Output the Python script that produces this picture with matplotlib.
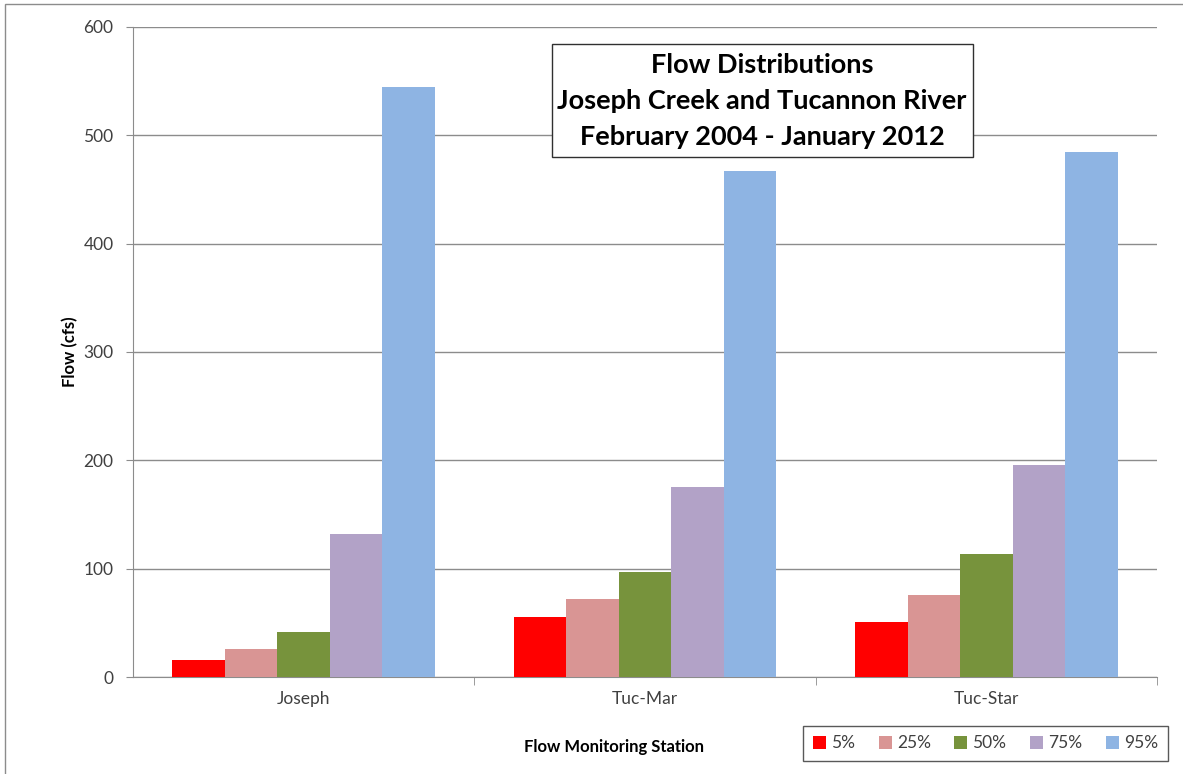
import matplotlib
matplotlib.use("Agg")
import matplotlib.pyplot as plt
import numpy as np
from matplotlib.patches import Rectangle

plt.rcParams['font.family'] = ['Lato', 'DejaVu Sans']

stations = ["Joseph", "Tuc-Mar", "Tuc-Star"]
percentiles = ["5%", "25%", "50%", "75%", "95%"]
flow_5 = [16, 55, 51]
flow_25 = [26, 72, 76]
flow_50 = [42, 97, 114]
flow_75 = [132, 175, 196]
flow_95 = [545, 467, 485]
colors = ["#FF0000", "#D99594", "#77933C", "#B2A2C7", "#8EB4E3"]

series = [flow_5, flow_25, flow_50, flow_75, flow_95]

W, H = 1183, 774
fig = plt.figure(figsize=(W / 100, H / 100), dpi=100)
ax = fig.add_axes([133 / W, 1 - 677 / H, (1157 - 133) / W, (677 - 27) / H])

x = np.arange(len(stations))
bw = 1 / 6.5
for i, (vals, c) in enumerate(zip(series, colors)):
    ax.bar(x + (i - 2) * bw, vals, width=bw, color=c, label=percentiles[i], zorder=3)

ax.set_xlim(-0.5, 2.5)
ax.set_ylim(0, 600)
ax.set_yticks(range(0, 601, 100))
ax.yaxis.grid(True, color="#8c8c8c", linewidth=1.0, zorder=0)
ax.set_xticks(x)
ax.set_xticklabels(stations)
ax.set_xticks([0.5, 1.5, 2.5], minor=True)
ax.tick_params(axis='x', which='major', length=0, pad=10, labelsize=12.5, colors="#404040")
ax.tick_params(axis='x', which='minor', length=6, color="#8c8c8c")
ax.tick_params(axis='y', length=5, color="#8c8c8c", pad=9, labelsize=12.5, labelcolor="#404040")
for s in ["top", "right"]:
    ax.spines[s].set_visible(False)
for s in ["left", "bottom"]:
    ax.spines[s].set_color("#8c8c8c")

fig.text(70 / W, 1 - 352 / H, "Flow (cfs)", rotation=90, ha="center", va="center",
         fontsize=12, fontweight="bold")
fig.text(614 / W, 1 - 747 / H, "Flow Monitoring Station", ha="center", va="center",
         fontsize=12, fontweight="bold")

# title box
fig.patches.append(Rectangle((552 / W, 1 - 157 / H), (973 - 552) / W, (157 - 44) / H,
                             transform=fig.transFigure, facecolor="white",
                             edgecolor="#303030", linewidth=1.0, zorder=5))
for yy, t in zip([65, 101, 137], ["Flow Distributions", "Joseph Creek and Tucannon River",
                                  "February 2004 - January 2012"]):
    fig.text(762 / W, 1 - yy / H, t, ha="center", va="center", fontsize=19.5,
             fontweight="bold", zorder=6)

# legend
leg = fig.legend(loc="center", bbox_to_anchor=(985.5 / W, 1 - 743.5 / H), ncol=5,
                 frameon=True, fontsize=12.5, handlelength=0.75, handleheight=0.75,
                 handletextpad=0.3, columnspacing=1.35, fancybox=False,
                 borderpad=0.55)
leg.get_frame().set_edgecolor("#303030")
leg.get_frame().set_linewidth(1.0)
for t in leg.get_texts():
    t.set_color("#404040")

# outer frame
fig.patches.append(Rectangle((5 / W, -0.01), 1.02, 1 - 4 / H + 0.01, transform=fig.transFigure,
                             facecolor="none", edgecolor="#8c8c8c", linewidth=1.0))

fig.savefig("out.png", dpi=100)
